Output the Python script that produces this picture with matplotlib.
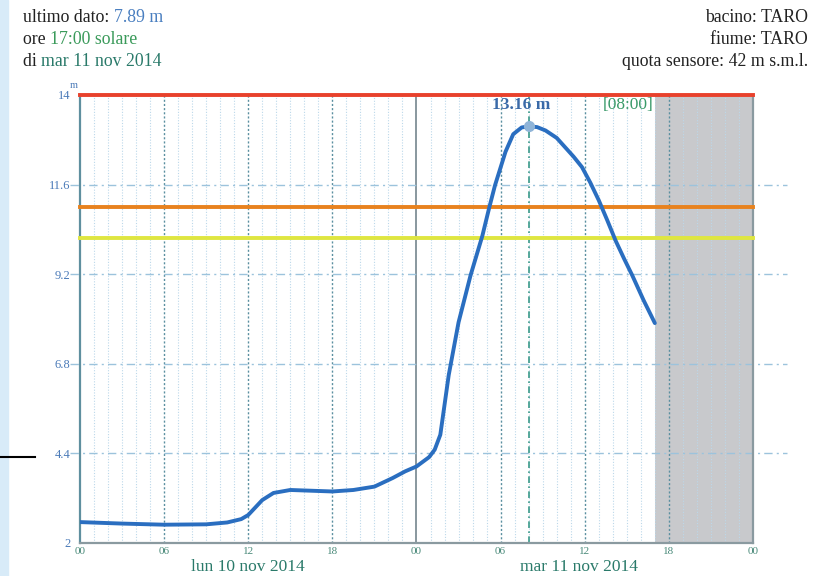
import matplotlib.pyplot as plt
from matplotlib.lines import Line2D
from matplotlib.patches import Rectangle
from matplotlib.transforms import blended_transform_factory

# water level, hours from lun 10 nov 2014 00:00
hours = [0, 3, 6, 9, 10.5, 11.5, 12, 12.5, 13, 13.8, 15, 16.5, 18, 19.5, 21,
         22.3, 23.2, 24, 24.9, 25.3, 25.7, 26.3, 27.0, 27.85, 28.7, 29.2, 29.6,
         30.35, 30.9, 31.5, 32, 32.6, 33.2, 34.0, 34.6, 35.2, 35.8, 36.4, 37.0,
         37.6, 38.2, 38.8, 39.4, 40.2, 41]
levels = [2.56, 2.52, 2.49, 2.50, 2.55, 2.64, 2.75, 2.95, 3.15, 3.34, 3.42, 3.40,
          3.38, 3.42, 3.51, 3.74, 3.92, 4.05, 4.30, 4.50, 4.90, 6.50, 7.91, 9.16,
          10.23, 11.0, 11.58, 12.48, 12.95, 13.13, 13.16, 13.14, 13.05, 12.85,
          12.6, 12.35, 12.07, 11.65, 11.18, 10.65, 10.1, 9.62, 9.16, 8.5, 7.89]

thresholds = [14.0, 11.0, 10.17]
threshold_colors = ['#e8412c', '#e8821e', '#dfe640']

yticks = [2, 4.4, 6.8, 9.2, 11.6, 14]
ytick_labels = ['2', '4.4', '6.8', '9.2', '11.6', '14']
xticks = [0, 6, 12, 18, 24, 30, 36, 42, 48]
xtick_labels = ['00', '06', '12', '18', '00', '06', '12', '18', '00']
day_labels = ['lun 10 nov 2014', 'mar 11 nov 2014']

peak_hour = 32
peak_level = 13.16
last_hour = 41

plt.rcParams['font.family'] = ['Liberation Serif', 'DejaVu Serif']

fig = plt.figure(figsize=(8.29, 5.76), dpi=100)
ax = fig.add_axes([0.0965, 0.0573, 0.8118, 0.7778])
ax.set_xlim(0, 48)
ax.set_ylim(2, 14)

# future (no data) region
ax.axvspan(last_hour, 48, color='#c8c9cc', lw=0, zorder=0)

# hourly grid
for h in range(1, 48):
    if h == 24:
        ax.axvline(h, color='#7f8f96', lw=1.3, zorder=1)
    elif h % 6 == 0:
        ax.axvline(h, color='#5a8fa0', lw=1.0, ls=(0, (1.5, 1.5)), zorder=1)
    else:
        ax.axvline(h, color='#bcd8ea', lw=0.8, ls=(0, (1, 1.5)), zorder=1)

# horizontal dash-dot grid, runs a bit past the frame
tr = blended_transform_factory(ax.transAxes, ax.transData)
for y in yticks[1:-1]:
    ax.plot([-0.015, 1.0505], [y, y], transform=tr, color='#9cc3dc', lw=1.0,
            ls=(0, (6, 3, 1.5, 3)), clip_on=False, zorder=1)

# thresholds
for y, c in zip(thresholds, threshold_colors):
    ax.plot([0, 1], [y, y], transform=tr, color=c, lw=2.8, clip_on=False, zorder=3)

# peak marker line
ax.axvline(peak_hour, color='#3a9a8a', lw=1.2, ls=(0, (4, 2, 1, 2)), zorder=2)

ax.plot(hours, levels, color='#2a6ec0', lw=2.8, solid_capstyle='round', zorder=4)
ax.plot([peak_hour], [peak_level], 'o', ms=7, color='#8fb4d8', zorder=5)

ax.text(31.5, 13.72, f'{peak_level:.2f} m', color='#3a6aa8', fontsize=12.5,
        fontweight='bold', ha='center', va='center', zorder=6)
ax.text(39.1, 13.72, '[08:00]', color='#3a9a6a', fontsize=12.5,
        ha='center', va='center', zorder=6)

# ticks and frame
ax.set_yticks(yticks)
ax.set_yticklabels(ytick_labels)
ax.set_xticks(xticks)
ax.set_xticklabels(xtick_labels)
ax.tick_params(axis='y', length=0, pad=7, labelsize=9, labelcolor='#4a7ab8')
ax.tick_params(axis='x', length=0, pad=3, labelsize=8, labelcolor='#4a8a7a')
ax.spines['top'].set_visible(False)
for side, col in [('left', '#5f8f9f'), ('bottom', '#8a9aa0'), ('right', '#8a9aa0')]:
    ax.spines[side].set_color(col)
    ax.spines[side].set_linewidth(1.6)

ax.text(-0.01, 1.012, 'm', transform=ax.transAxes, color='#4a7ab8', fontsize=7.5,
        ha='center', va='bottom')

trx = blended_transform_factory(ax.transData, ax.transAxes)
for xh, lab in zip([12, 35.6], day_labels):
    ax.text(xh, -0.054, lab, transform=trx, color='#2a7a6a', fontsize=12.5,
            ha='center', va='center')

# header: coloured pieces chained one after another
black = '#222222'
left_lines = [
    [('ultimo dato: ', black), ('7.89 m', '#4a7fc0')],
    [('ore ', black), ('17:00 solare', '#3a9a5a')],
    [('di ', black), ('mar 11 nov 2014', '#2a7a6a')],
]
for i, parts in enumerate(left_lines):
    y = 1 - (17 + 22 * i) / 576
    prev = fig.text(23 / 829, y, parts[0][0], color=parts[0][1], fontsize=12.8,
                    va='center')
    for s, c in parts[1:]:
        prev = fig.add_artist(plt.Annotation(s, xy=(1, 0), xycoords=prev,
                                             va='bottom', ha='left', color=c,
                                             fontsize=12.8))

right_lines = ['bacino: TARO', 'fiume: TARO', 'quota sensore: 42 m s.m.l.']
for i, s in enumerate(right_lines):
    fig.text(808 / 829, 1 - (17 + 22 * i) / 576, s, color=black, fontsize=12.8,
             ha='right', va='center')

# page leftovers: blue strip and a short black rule at the left edge
fig.patches.append(Rectangle((0, 0), 8 / 829, 1, transform=fig.transFigure,
                             color='#d8ebf8', zorder=0))
fig.lines.append(Line2D([0, 35 / 829], [1 - 457 / 576] * 2,
                        transform=fig.transFigure, color='black', lw=1.5))

fig.savefig('out.png', dpi=100)
